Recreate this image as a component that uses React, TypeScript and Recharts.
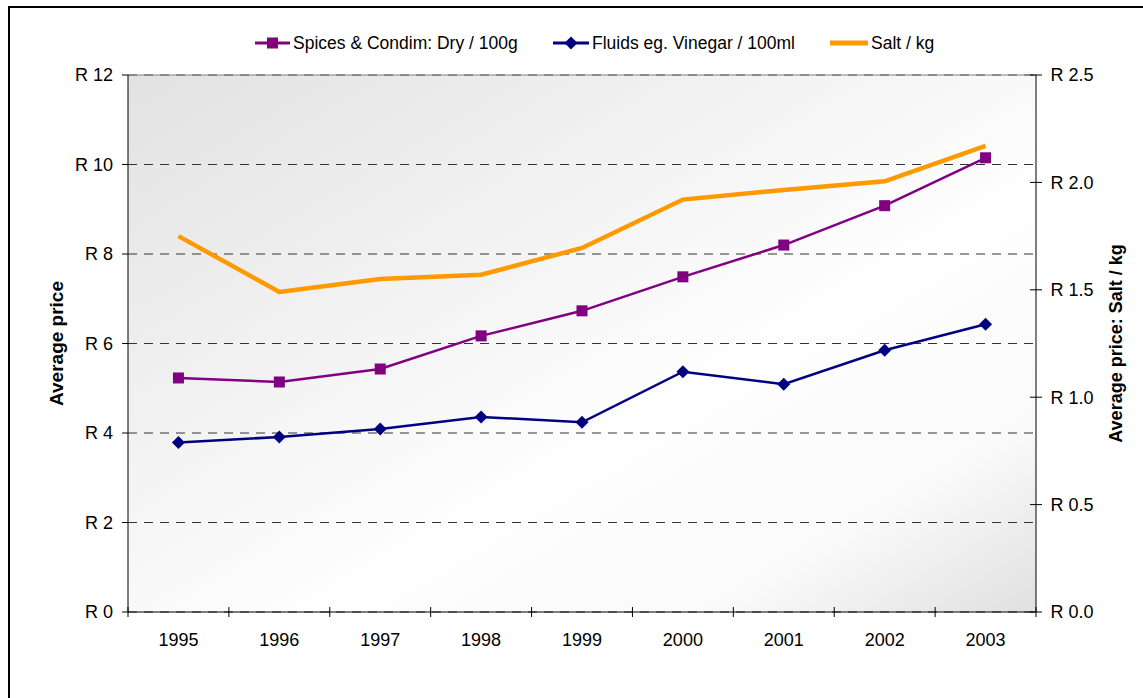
import React from 'react';
import { LineChart, Line, XAxis, YAxis, CartesianGrid, Legend, ReferenceLine } from 'recharts';

const years = ['1995', '1996', '1997', '1998', '1999', '2000', '2001', '2002', '2003'];
const spices = [5.23, 5.14, 5.43, 6.17, 6.73, 7.49, 8.2, 9.08, 10.15];
const fluids = [3.79, 3.91, 4.09, 4.36, 4.24, 5.37, 5.09, 5.85, 6.43];
const salt = [1.75, 1.49, 1.55, 1.57, 1.695, 1.92, 1.965, 2.005, 2.17];
const leftTicks = [0, 2, 4, 6, 8, 10, 12];
const rightTicks = [0, 0.5, 1, 1.5, 2, 2.5];

const seriesNames = {
  spices: 'Spices & Condim: Dry / 100g',
  fluids: 'Fluids eg. Vinegar / 100ml',
  salt: 'Salt / kg',
};

const PURPLE = '#800080';
const NAVY = '#000080';
const ORANGE = '#FF9900';
const FONT = '"Liberation Sans", Arial, sans-serif';
const FS = 17.5;
const TFS = 18;

const data = years.map((year, i) => ({
  x: i,
  year,
  spices: spices[i],
  fluids: fluids[i],
  salt: salt[i],
}));

const xTicks: number[] = [];
years.forEach((_, i) => {
  xTicks.push(i - 0.5);
  xTicks.push(i);
});
xTicks.push(years.length - 0.5);

const XTick = (props: any) => {
  const { x, y, payload } = props;
  const v = payload.value;
  if (Number.isInteger(v)) {
    return (
      <text x={x} y={y + 34} textAnchor="middle" fill="#000" fontSize={TFS} fontFamily={FONT}>
        {years[v]}
      </text>
    );
  }
  return <line x1={x} x2={x} y1={y - 5} y2={y + 5} stroke="#000" strokeWidth={1} />;
};

const RightTick = (props: any) => {
  const { x, y, payload } = props;
  return (
    <g>
      <line x1={x - 6} x2={x + 6} y1={y} y2={y} stroke="#000" strokeWidth={1} />
      <text x={x + 14.5} y={y} dy="0.355em" textAnchor="start" fill="#000" fontSize={TFS} fontFamily={FONT}>
        {`R ${Number(payload.value).toFixed(1)}`}
      </text>
    </g>
  );
};

const SquareDot = (props: any) => {
  const { cx, cy } = props;
  if (cx == null || cy == null) return null;
  return <rect x={cx - 5.5} y={cy - 5.5} width={11} height={11} fill={PURPLE} />;
};

const DiamondDot = (props: any) => {
  const { cx, cy } = props;
  if (cx == null || cy == null) return null;
  const r = 6.5;
  return <polygon points={`${cx},${cy - r} ${cx + r},${cy} ${cx},${cy + r} ${cx - r},${cy}`} fill={NAVY} />;
};

const legendItems = [
  { key: 'spices', color: PURPLE, marker: 'square', left: 255, iconW: 35, width: 3 },
  { key: 'fluids', color: NAVY, marker: 'diamond', left: 553, iconW: 36, width: 3 },
  { key: 'salt', color: ORANGE, marker: 'none', left: 830, iconW: 38, width: 5 },
];

const renderLegend = () => (
  <div style={{ position: 'relative', width: 1143, height: 24 }}>
    {legendItems.map((it) => (
      <div
        key={it.key}
        style={{ position: 'absolute', left: it.left, top: 0, height: 24, display: 'flex', alignItems: 'center' }}
      >
        <svg width={it.iconW} height={16} style={{ display: 'block' }}>
          <line x1={0} x2={it.iconW} y1={8} y2={8} stroke={it.color} strokeWidth={it.width} strokeLinecap="round" />
          {it.marker === 'square' && <rect x={it.iconW / 2 - 5.5} y={2.5} width={11} height={11} fill={it.color} />}
          {it.marker === 'diamond' && (
            <polygon
              points={`${it.iconW / 2},1.5 ${it.iconW / 2 + 6.5},8 ${it.iconW / 2},14.5 ${it.iconW / 2 - 6.5},8`}
              fill={it.color}
            />
          )}
        </svg>
        <span style={{ marginLeft: 3, fontFamily: FONT, fontSize: FS, color: '#000', whiteSpace: 'nowrap' }}>
          {(seriesNames as any)[it.key]}
        </span>
      </div>
    ))}
  </div>
);

const makeTitle = (text: string, offsetX: number, size: number) => (props: any) => {
  const vb = props.viewBox || {};
  const cx = (vb.x || 0) + offsetX;
  const cy = (vb.y || 0) + (vb.height || 0) / 2;
  return (
    <text
      x={cx}
      y={cy}
      transform={`rotate(-90, ${cx}, ${cy})`}
      textAnchor="middle"
      dominantBaseline="central"
      fontFamily={FONT}
      fontWeight="bold"
      fontSize={size}
      fill="#000"
    >
      {text}
    </text>
  );
};

export default function App() {
  return (
    <div style={{ position: 'absolute', left: 0, top: 0, width: 1143, height: 698, overflow: 'hidden', background: '#fff' }}>
      <div
        style={{
          position: 'absolute',
          left: 8,
          top: 6,
          width: 1200,
          height: 800,
          borderLeft: '2px solid #000',
          borderTop: '2px solid #000',
        }}
      />
      <div style={{ position: 'absolute', left: 0, top: 0 }}>
        <LineChart width={1143} height={698} data={data} margin={{ top: 75, right: 0, bottom: 0, left: 0 }}>
          <defs>
            <linearGradient id="plotBg" x1="0" y1="0" x2="1" y2="1">
              <stop offset="0" stopColor="#e2e2e2" />
              <stop offset="0.45" stopColor="#f7f7f7" />
              <stop offset="0.6" stopColor="#fefefe" />
              <stop offset="0.82" stopColor="#fafafa" />
              <stop offset="1" stopColor="#e0e0e0" />
            </linearGradient>
          </defs>
          <CartesianGrid
            yAxisId="left"
            vertical={false}
            stroke="#333"
            strokeDasharray="9 7"
            fill="url(#plotBg)"
            fillOpacity={1}
          />
          <XAxis
            dataKey="x"
            type="number"
            domain={[-0.5, years.length - 0.5]}
            ticks={xTicks}
            interval={0}
            tickLine={false}
            tickSize={0}
            tickMargin={0}
            tick={<XTick />}
            height={86}
            axisLine={{ stroke: '#000', strokeWidth: 1 }}
            allowDecimals
          />
          <YAxis
            yAxisId="left"
            orientation="left"
            width={128}
            domain={[0, 12]}
            ticks={leftTicks}
            interval={0}
            tickFormatter={(v: number) => `R ${v}`}
            tick={{ fill: '#000', fontSize: TFS, fontFamily: FONT }}
            tickLine={{ stroke: '#000' }}
            tickSize={6}
            tickMargin={9}
            axisLine={{ stroke: '#000', strokeWidth: 1 }}
            label={makeTitle('Average price', 56, 19)}
          />
          <YAxis
            yAxisId="right"
            orientation="right"
            width={107}
            domain={[0, 2.5]}
            ticks={rightTicks}
            interval={0}
            tick={<RightTick />}
            tickLine={false}
            tickSize={0}
            tickMargin={0}
            axisLine={{ stroke: '#000', strokeWidth: 1 }}
            label={makeTitle('Average price: Salt / kg', 80, 18)}
          />
          <ReferenceLine yAxisId="left" y={12} stroke="#808080" strokeWidth={1} />
          <Legend
            layout="horizontal"
            verticalAlign="middle"
            content={renderLegend}
            wrapperStyle={{ position: 'absolute', left: 0, top: 31, width: 1143, height: 24 }}
          />
          <Line
            yAxisId="left"
            dataKey="spices"
            name={seriesNames.spices}
            stroke={PURPLE}
            strokeWidth={2.5}
            dot={<SquareDot />}
            activeDot={false}
            isAnimationActive={false}
          />
          <Line
            yAxisId="left"
            dataKey="fluids"
            name={seriesNames.fluids}
            stroke={NAVY}
            strokeWidth={2.5}
            dot={<DiamondDot />}
            activeDot={false}
            isAnimationActive={false}
          />
          <Line
            yAxisId="right"
            dataKey="salt"
            name={seriesNames.salt}
            stroke={ORANGE}
            strokeWidth={4.5}
            dot={false}
            activeDot={false}
            isAnimationActive={false}
          />
        </LineChart>
      </div>
    </div>
  );
}
